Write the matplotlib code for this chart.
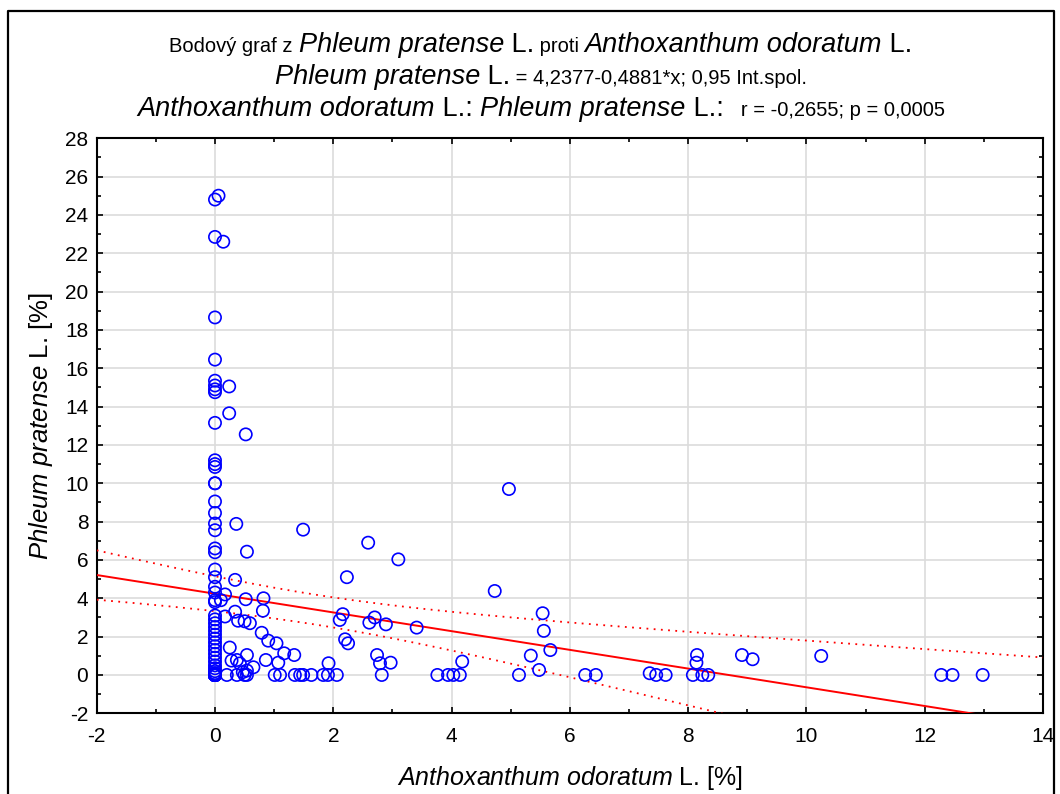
import numpy as np
import matplotlib
matplotlib.use("Agg")
import matplotlib.pyplot as plt
from matplotlib.lines import Line2D

plt.rcParams['font.family'] = ['Liberation Sans', 'DejaVu Sans']
plt.rcParams['mathtext.fontset'] = 'custom'
plt.rcParams['mathtext.rm'] = 'Liberation Sans'
plt.rcParams['mathtext.it'] = 'Liberation Sans:italic'
plt.rcParams['axes.unicode_minus'] = False

# Anthoxanthum odoratum L. [%] (x) vs Phleum pratense L. [%] (y)
# points in the column at x = 0
col_y = [24.8, 22.85, 18.65, 16.45, 15.35, 15.1, 14.9, 14.75, 13.15, 11.2, 11.0, 10.85,
         10.0, 10.0, 9.05, 8.45, 7.9, 7.55, 6.6, 6.4, 5.5, 5.1, 4.6, 4.3, 3.9, 3.8, 3.1,
         2.9, 2.7, 2.5, 2.3, 2.1, 1.9, 1.7, 1.5, 1.3, 1.1, 0.9, 0.7, 0.5, 0.35, 0.2, 0.1,
         0, 0, 0, 0, 0, 0, 0, 0, 0, 0, 0, 0, 0, 0, 0, 0, 0, 0, 0, 0, 0, 0, 0, 0, 0,
         0, 0, 0, 0, 0, 0]
# points on the y = 0 line
zero_x = [0.2, 0.37, 0.5, 0.54, 1.01, 1.10, 1.35, 1.44, 1.49, 1.63, 1.83, 1.91, 2.06,
          2.82, 3.76, 3.94, 4.03, 4.14, 5.14, 6.26, 6.44, 7.46, 7.62, 8.08, 8.24, 8.34,
          12.28, 12.47, 12.98]
other_x = [0.06, 0.14, 0.10, 0.17, 0.17, 0.25, 0.24, 0.24, 0.52, 0.36, 0.54, 0.34, 0.52,
           0.82, 0.81, 0.34, 0.39, 0.50, 0.59, 0.79, 0.90, 1.04, 1.17, 1.34, 0.54, 0.86,
           1.07, 0.28, 0.37, 0.42, 0.65, 0.54, 0.47,
           1.49, 2.59, 3.10, 2.23, 2.16, 2.11, 2.70, 2.61, 2.89, 3.41, 2.20, 2.25, 2.74,
           2.79, 2.97, 1.92, 4.73, 4.97, 5.54, 5.56, 5.67, 5.34, 5.48, 4.18, 7.35, 8.15,
           8.14, 8.91, 9.09, 10.25]
other_y = [25.0, 22.6, 3.9, 4.2, 3.05, 1.43, 15.05, 13.65, 12.55, 7.88, 6.43, 4.96, 3.95,
           4.0, 3.35, 3.3, 2.83, 2.8, 2.7, 2.2, 1.79, 1.65, 1.13, 1.04, 1.04, 0.78,
           0.64, 0.75, 0.78, 0.6, 0.4, 0.23, 0.15,
           7.58, 6.9, 6.03, 5.1, 3.17, 2.87, 3.0, 2.73, 2.64, 2.47, 1.86, 1.65, 1.04,
           0.61, 0.64, 0.61, 4.38, 9.7, 3.22, 2.3, 1.3, 1.01, 0.26, 0.7, 0.09, 1.04,
           0.64, 1.04, 0.82, 0.99]

intercept = 4.2377
slope = -0.4881

x = np.array([0.0] * len(col_y) + zero_x + other_x)
y = np.array(col_y + [0.0] * len(zero_x) + other_y)

fig = plt.figure(figsize=(10.6, 7.94), dpi=100)
W, H = 1060, 794
ax = fig.add_axes([96.7 / W, 1 - 713.3 / H, (1043 - 96.7) / W, (713.3 - 138.2) / H])

ax.set_xlim(-2, 14)
ax.set_ylim(-2, 28)
ax.set_xticks(np.arange(-2, 15, 2))
ax.set_yticks(np.arange(-2, 29, 2))
ax.set_xticks(np.arange(-1, 14, 2), minor=True)
ax.set_yticks(np.arange(-1, 28, 2), minor=True)
ax.grid(True, which='major', color='#dcdcdc', linewidth=1.2)
ax.set_axisbelow(True)
ax.tick_params(which='both', direction='in', top=True, right=True, labelsize=15,
               length=4, width=1.2)
ax.tick_params(axis='x', pad=10)
ax.tick_params(axis='y', pad=6)
ax.tick_params(which='minor', length=3)
for sp in ax.spines.values():
    sp.set_linewidth(1.5)

# regression line and 95% confidence band
xs = np.linspace(-2, 14, 300)
ys = intercept + slope * xs
n = len(x)
resid = y - (intercept + slope * x)
s = np.sqrt(np.sum(resid ** 2) / (n - 2))
sxx = np.sum((x - x.mean()) ** 2)
half = 1.974 * s * np.sqrt(1 / n + (xs - x.mean()) ** 2 / sxx)
ax.plot(xs, ys, color='red', linewidth=1.4, zorder=3)
ax.plot(xs, ys + half, color='red', linewidth=1.3, linestyle=(0, (1, 3)), zorder=3)
ax.plot(xs, ys - half, color='red', linewidth=1.3, linestyle=(0, (1, 3)), zorder=3)

ax.scatter(x, y, s=78, facecolors='none', edgecolors='#0000ff', linewidths=1.2, zorder=4)

ax.set_xlabel(r'$\mathit{Anthoxanthum\ odoratum}$ L. [%]', fontsize=18, labelpad=13)
ax.set_ylabel(r'$\mathit{Phleum\ pratense}$ L. [%]', fontsize=18.5, labelpad=7)


def title_line(segments, ybase, xc=541):
    r = fig.canvas.get_renderer()
    objs = []
    for txt, size, style in segments:
        t = fig.text(0, 1 - ybase / H, txt, fontsize=size, style=style, va='baseline')
        objs.append(t)
    widths = [t.get_window_extent(r).width for t in objs]
    xpos = xc - sum(widths) / 2
    for t, w in zip(objs, widths):
        t.set_x(xpos / W)
        xpos += w


title_line([("Bodový graf z ", 14.5, 'normal'), ("Phleum pratense", 19.5, 'italic'),
            (" L.", 19.5, 'normal'), (" proti ", 14.5, 'normal'),
            ("Anthoxanthum odoratum", 19.5, 'italic'), (" L.", 19.5, 'normal')], 52)
title_line([("Phleum pratense", 19.5, 'italic'), (" L.", 19.5, 'normal'),
            (" = 4,2377-0,4881*x; 0,95 Int.spol.", 14.5, 'normal')], 84)
title_line([("Anthoxanthum odoratum", 19.5, 'italic'), (" L.: ", 19.5, 'normal'),
            ("Phleum pratense", 19.5, 'italic'), (" L.:", 19.5, 'normal'),
            ("   r = -0,2655; p = 0,0005", 14.5, 'normal')], 116)

# outer frame
fig.add_artist(Line2D([8 / W, 8 / W, 1054 / W, 1054 / W],
                      [-0.01, 1 - 11 / H, 1 - 11 / H, -0.01],
                      transform=fig.transFigure, color='black', linewidth=1.6))

fig.savefig("out.png", dpi=100)
